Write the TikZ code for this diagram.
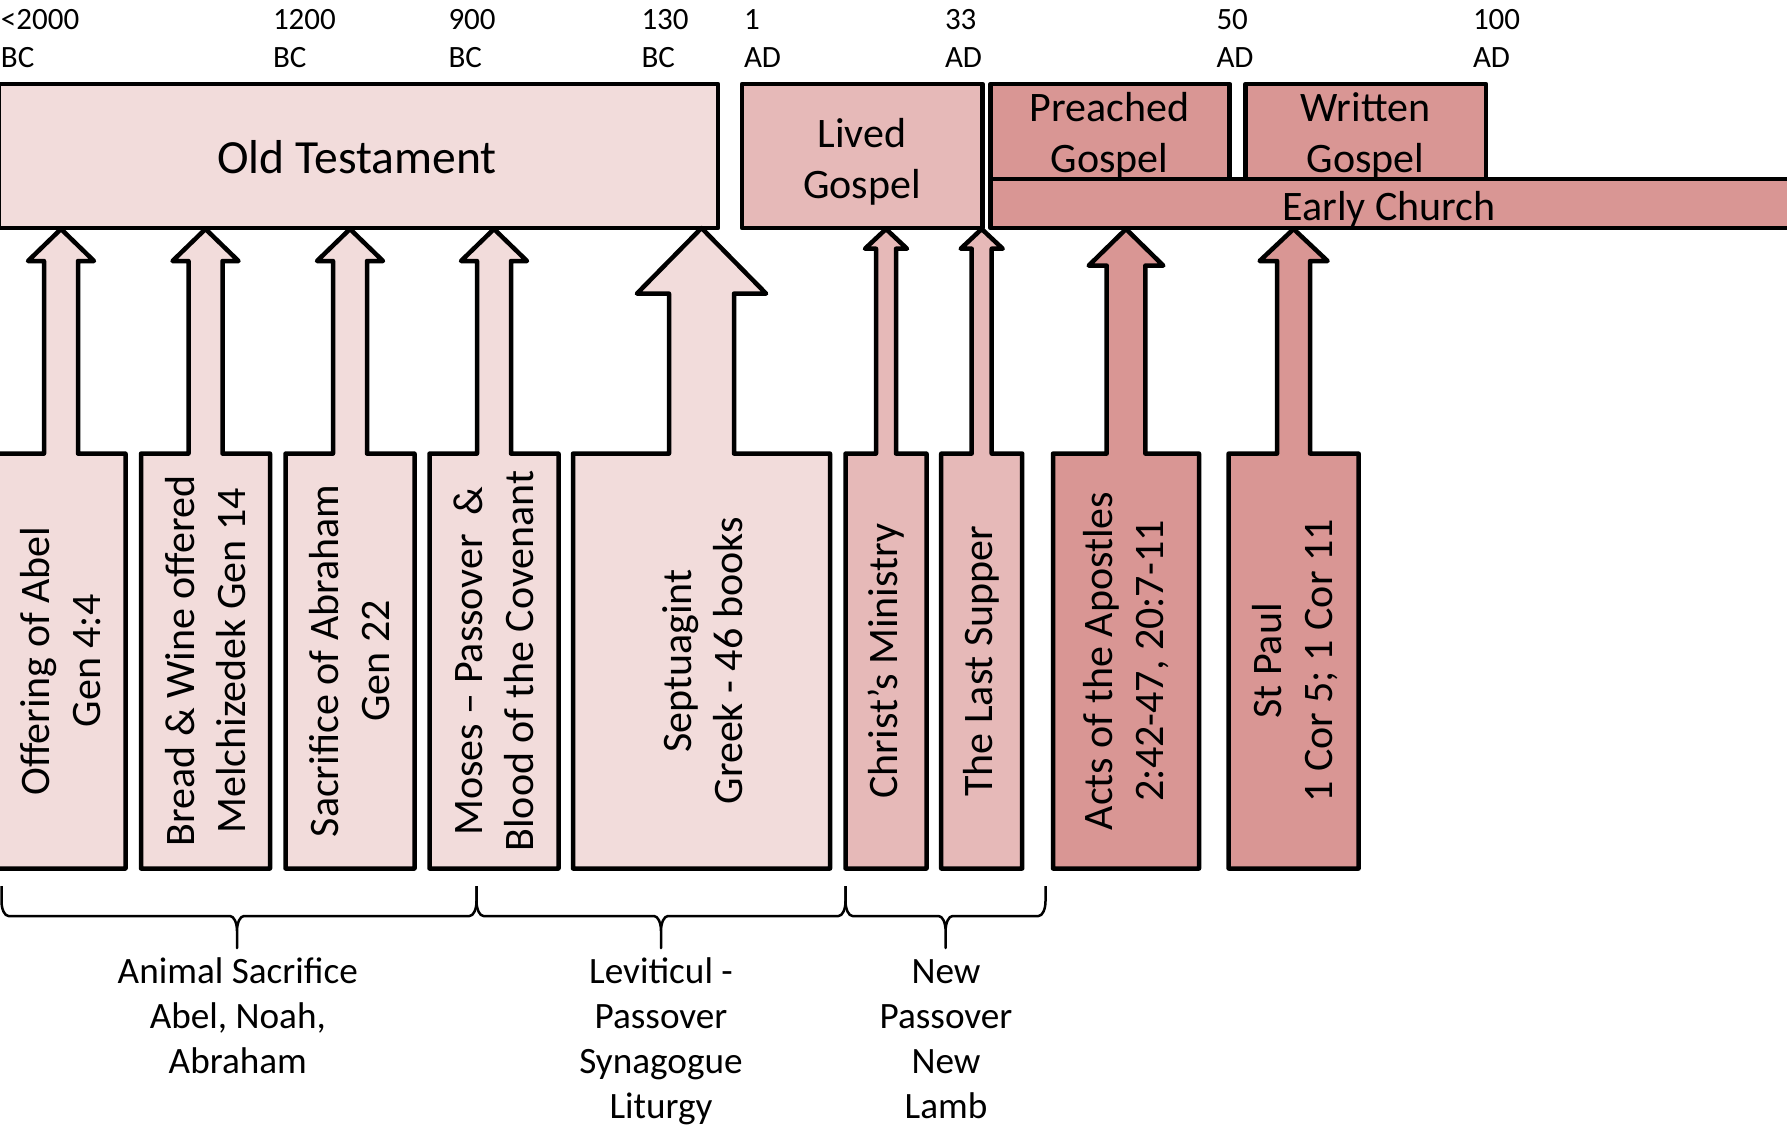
\documentclass[tikz,border=0pt]{standalone}
\usepackage{fontspec}
\setmainfont{Carlito}
\definecolor{cL}{HTML}{F2DCDB}
\definecolor{cM}{HTML}{E6B9B8}
\definecolor{cD}{HTML}{D99694}
\tikzset{
  every node/.style={inner sep=0pt, outer sep=0pt},
  topbox/.style={draw=black, line width=2.25pt, rectangle, anchor=north west, line join=round},
  callout/.style={draw=black, line width=2.25pt, line join=round},
  bigtxt/.style={font=\fontsize{23.8}{28}\selectfont, anchor=base},
  boxtxt/.style={font=\fontsize{21}{25.5}\selectfont, anchor=base, align=center},
  vtxt/.style={font=\fontsize{21}{25.5}\selectfont, rotate=90, align=center},
  datetxt/.style={font=\fontsize{15.5}{18.75}\selectfont, anchor=base west, align=left},
  bottxt/.style={font=\fontsize{18.6}{22.5}\selectfont, anchor=base, align=center},
  bracel/.style={draw=black, line width=1.25pt, line join=round},
}
% #1 centre x, #2 box half width, #3 shaft half width, #4 head half width, #5 head base y, #6 tip y, #7 fill
\newcommand\upcallout[7]{%
  \draw[callout, fill=#7] (#1-#2,868.5) -- (#1-#2,453.6) -- (#1-#3,453.6) -- (#1-#3,#5)
    -- (#1-#4,#5) -- (#1,#6) -- (#1+#4,#5) -- (#1+#3,#5) -- (#1+#3,453.6)
    -- (#1+#2,453.6) -- (#1+#2,868.5) -- cycle;}
% #1 left x, #2 tip x, #3 right x
\newcommand\bracedown[3]{%
  \draw[bracel] (#1,886) -- (#1,901) .. controls (#1,909.3) and (#1+3.1,916) .. (#1+7,916)
    -- (#2-7,916) .. controls (#2-3.1,916) and (#2,922.7) .. (#2,931) -- (#2,948)
    -- (#2,931) .. controls (#2,922.7) and (#2+3.1,916) .. (#2+7,916)
    -- (#3-7,916) .. controls (#3-3.1,916) and (#3,909.3) .. (#3,901) -- (#3,886);}
\begin{document}
\begin{tikzpicture}[x=0.5pt, y=-0.5pt]
\useasboundingbox (0,0) rectangle (1787,1124);
\clip (0,0) rectangle (1787,1124);

% dates (base anchor = last line)
\node[datetxt] (d1) at (1,67) {<2000\\BC};
\node[datetxt] (d2) at (273,67) {1200\\BC};
\node[datetxt] (d3) at (448.5,67) {900\\BC};
\node[datetxt] (d4) at (641.5,67) {130\\BC};
\node[datetxt] (d5) at (744,67) {1\\AD};
\node[datetxt] (d6) at (945,67) {33\\AD};
\node[datetxt] (d7) at (1216.5,67) {50\\AD};
\node[datetxt] (d8) at (1473,67) {100\\AD};

% top boxes
\node[topbox, fill=cL, minimum width=359.5pt, minimum height=72pt] (ot) at (-1,84) {};
\node[topbox, fill=cM, minimum width=120.2pt, minimum height=72pt] (lived) at (742,84) {};
\node[topbox, fill=cD, minimum width=400.8pt, minimum height=24.5pt] (early) at (990.4,179) {};
\node[topbox, fill=cD, minimum width=119.65pt, minimum height=47.5pt] (preached) at (990.4,84) {};
\node[topbox, fill=cD, minimum width=120.15pt, minimum height=47.5pt] (written) at (1245.7,84) {};

\node[bigtxt] (otT) at (357,173) {Old Testament};
\node[boxtxt] (livedT) at (862,198) {Lived\\Gospel};
\node[boxtxt] (preachedT) at (1109.5,172) {Preached\\Gospel};
\node[boxtxt] (writtenT) at (1365.5,172) {Written\\Gospel};
\node[boxtxt] (earlyT) at (1389,220) {Early Church};

% callouts
\upcallout{61}{64.5}{17}{33}{261}{229}{cL}
\upcallout{205.5}{64.5}{17}{33}{261}{229}{cL}
\upcallout{350}{64.5}{17}{33}{261}{229}{cL}
\upcallout{494}{64.5}{17}{33}{261}{229}{cL}
\upcallout{701.5}{128.5}{32.5}{64.6}{293.6}{228}{cL}
\upcallout{886}{40.5}{10}{21}{248.7}{229}{cM}
\upcallout{981.7}{40.5}{10}{21}{248.7}{229}{cM}
\upcallout{1126}{73}{19.3}{37.3}{265.6}{229}{cD}
\upcallout{1293.6}{65}{16.5}{34}{261}{229}{cD}

\node[vtxt] (c1) at (61,661) {Offering of Abel\\Gen 4:4};
\node[vtxt] (c2) at (205.5,661) {Bread \& Wine offered\\Melchizedek Gen 14};
\node[vtxt] (c3) at (350,661) {Sacrifice of Abraham\\Gen 22};
\node[vtxt] (c4) at (494,661) {Moses – Passover\ \ \&\\Blood of the Covenant};
\node[vtxt] (c5) at (703,661) {Septuagint\\Greek - 46 books};
\node[vtxt] (c6) at (886,661) {Christ’s Ministry};
\node[vtxt] (c7) at (981.7,661) {The Last Supper};
\node[vtxt] (c8) at (1126,661) {Acts of the Apostles\\2:42-47, 20:7-11};
\node[vtxt] (c9) at (1295,661) {St Paul\\1 Cor 5; 1 Cor 11};

% braces
\bracedown{1.5}{237}{476.5}
\bracedown{476.5}{661}{845.5}
\bracedown{845.5}{945.6}{1045.5}

\node[bottxt] (l1) at (237.8,1073) {Animal Sacrifice\\Abel, Noah,\\Abraham};
\node[bottxt] (l2) at (661,1118) {Leviticul -\\Passover\\Synagogue\\Liturgy};
\node[bottxt] (l3) at (946,1118) {New\\Passover\\New\\Lamb};
\end{tikzpicture}
\end{document}
